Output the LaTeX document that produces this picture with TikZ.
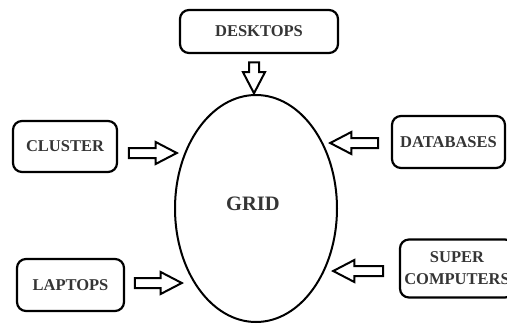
\documentclass[tikz,border=0pt]{standalone}
\usepackage{fontspec}
\setmainfont{Liberation Serif}
\usetikzlibrary{shapes.geometric,shapes.arrows}
\definecolor{txt}{HTML}{353535}
\tikzset{
  srcbox/.style={draw=black, line width=2.2pt, rounded corners=9pt, inner sep=0pt,
    font=\fontsize{16.5}{19}\selectfont\bfseries, text=txt, align=center},
  blockarrow/.style={single arrow, draw=black, line width=2pt, fill=white,
    minimum width=20pt, single arrow head extend=6pt, single arrow tip angle=55,
    inner sep=4pt, outer sep=0pt},
}
\begin{document}
\begin{tikzpicture}[x=1pt,y=-1pt]
\useasboundingbox (0,0) rectangle (507,325);
% central grid
\node[ellipse, draw=black, line width=2pt, minimum width=162pt, minimum height=227pt,
  inner sep=0pt] (grid) at (256,208.5) {};
\node[font=\fontsize{20.5}{22}\selectfont\bfseries, text=txt] (gridlbl) at (253,204) {GRID};
% sources
\node[srcbox, minimum width=158pt, minimum height=43pt] (desk) at (259,31.5) {DESKTOPS};
\node[srcbox, minimum width=104pt, minimum height=51pt] (clus) at (65,146.5) {CLUSTER};
\node[srcbox, minimum width=113pt, minimum height=52pt] (db) at (448.5,142) {DATABASES};
\node[srcbox, minimum width=107pt, minimum height=52pt] (lap) at (70.5,285) {LAPTOPS};
\node[srcbox, minimum width=114pt, minimum height=58pt] (sup) at (457,268.5)
  {SUPER\\[3pt]COMPUTERS};
% block arrows
\node[blockarrow, minimum height=31pt, minimum width=18pt, shape border rotate=270] (a1) at (254,73) {};
\node[blockarrow, minimum height=48pt] (a2) at (148,153) {};
\node[blockarrow, minimum height=48pt, shape border rotate=180] (a3) at (359,143) {};
\node[blockarrow, minimum height=47pt] (a4) at (153.5,283) {};
\node[blockarrow, minimum height=50pt, shape border rotate=180] (a5) at (363,271) {};
\end{tikzpicture}
\end{document}
